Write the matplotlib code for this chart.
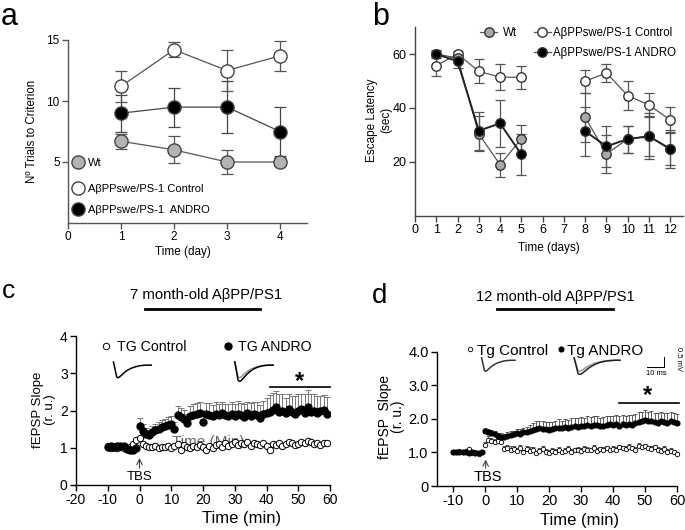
import matplotlib
matplotlib.use('Agg')
import matplotlib.pyplot as plt
from matplotlib.lines import Line2D
from matplotlib.legend import Legend
import numpy as np

plt.rcParams['font.family'] = ['Liberation Sans', 'DejaVu Sans']
plt.rcParams['axes.unicode_minus'] = False

# ---------------- data ----------------
# a: trials to criterion
days_a = [1, 2, 3, 4]
wt_a = [6.7, 6.0, 5.0, 5.0]
wt_a_err = [0.6, 1.1, 1.0, 0.3]
ctrl_a = [11.2, 14.2, 12.5, 13.7]
ctrl_a_err = [1.3, 0.6, 1.7, 1.2]
andro_a = [9.0, 9.5, 9.5, 7.5]
andro_a_err = [1.5, 1.6, 2.1, 2.0]

# b: escape latency
days_b = [1, 2, 3, 4, 5, 8, 9, 10, 11, 12]
wt_b = [60.0, 58.5, 30.4, 19.0, 28.6, 36.5, 23.0, 28.5, 29.6, 24.9]
wt_b_err = [1.5, 2.0, 6.5, 4.4, 5.2, 9.0, 7.0, 5.0, 7.5, 6.0]
ctrl_b = [55.7, 60.0, 53.6, 51.4, 51.4, 49.9, 53.0, 44.6, 41.1, 35.6]
ctrl_b_err = [3.8, 1.0, 4.5, 4.9, 4.3, 4.3, 3.4, 5.3, 4.6, 4.6]
andro_b = [60.0, 57.3, 31.6, 34.3, 22.8, 31.4, 25.8, 28.5, 29.5, 24.8]
andro_b_err = [1.0, 2.5, 7.0, 8.8, 7.7, 9.0, 7.7, 5.0, 8.5, 7.0]

# c: 7 month-old, fEPSP slope
time_c = np.arange(-10, 60)
ctrl_c = [1.05, 1.00, 1.02, 0.98, 1.03, 1.00, 0.97, 1.02, 1.10, 1.22,
          1.25, 1.10, 1.05, 1.03, 1.02, 1.05, 1.00, 1.03, 1.02, 1.06,
          1.00, 1.05, 1.10, 0.95, 1.08, 1.02, 0.98, 1.06, 1.03, 1.08,
          1.02, 0.95, 1.05, 1.00, 1.08, 1.10, 1.03, 1.12, 1.05, 1.10,
          1.15, 1.08, 1.12, 1.10, 1.15, 1.05, 1.12, 1.10, 1.08, 1.12,
          1.05, 0.95, 1.10, 1.08, 1.12, 1.05, 1.10, 1.15, 1.12, 1.08,
          1.10, 1.15, 1.12, 1.18, 1.15, 1.10, 1.12, 1.08, 1.12, 1.13]
andro_c = [1.03, 1.05, 1.02, 1.06, 1.04, 1.05, 0.96, 0.93, 0.95, 1.00,
           1.58, 1.45, 1.38, 1.33, 1.42, 1.48, 1.50, 1.55, 1.58, 1.60,
           1.63, 1.50, 1.88, 1.82, 1.76, 1.66, 1.85, 1.88, 1.90, 1.92,
           1.70, 1.90, 1.88, 1.85, 1.90, 1.87, 1.92, 1.88, 1.86, 1.90,
           1.85, 1.90, 1.88, 1.83, 1.92, 1.86, 1.90, 1.88, 1.80, 1.90,
           1.93, 1.97, 2.02, 2.10, 1.95, 2.00, 1.92, 2.05, 1.95, 1.90,
           1.98, 2.03, 1.93, 2.10, 1.95, 2.00, 1.92, 1.98, 2.02, 1.90]
andro_c_err = [0.03, 0.03, 0.03, 0.03, 0.03, 0.03, 0.03, 0.03, 0.03, 0.03,
               0.22, 0.18, 0.15, 0.14, 0.16, 0.17, 0.18, 0.20, 0.20, 0.22,
               0.22, 0.20, 0.25, 0.24, 0.25, 0.25, 0.28, 0.30, 0.30, 0.32,
               0.30, 0.30, 0.32, 0.30, 0.33, 0.30, 0.32, 0.30, 0.32, 0.33,
               0.33, 0.35, 0.32, 0.34, 0.32, 0.35, 0.33, 0.34, 0.35, 0.35,
               0.40, 0.45, 0.45, 0.42, 0.48, 0.45, 0.42, 0.40, 0.45, 0.48,
               0.45, 0.42, 0.50, 0.45, 0.48, 0.44, 0.46, 0.42, 0.40, 0.45]

# d: 12 month-old, fEPSP slope
time_d = np.arange(-10, 61)
ctrl_d = [1.02, 1.00, 1.03, 1.00, 1.05, 1.10, 0.98, 1.00, 0.96, 1.00,
          1.22, 1.38, 1.35, 1.30, 1.33, 1.30, 1.10, 1.12, 1.08, 1.10,
          1.05, 1.12, 1.00, 1.10, 1.05, 1.08, 0.98, 1.03, 1.10, 1.00,
          0.98, 1.05, 1.02, 1.08, 1.00, 1.05, 1.10, 1.02, 1.06, 1.08,
          1.05, 1.10, 1.08, 1.06, 1.12, 1.05, 1.10, 1.08, 1.12, 1.06,
          1.10, 1.08, 1.15, 1.12, 1.10, 1.16, 1.12, 1.08, 1.20, 1.15,
          1.18, 1.12, 1.10, 1.15, 1.08, 1.05, 1.10, 1.02, 1.05, 1.00, 0.95]
ctrl_d_err = [0.02, 0.02, 0.02, 0.02, 0.02, 0.02, 0.02, 0.02, 0.02, 0.02,
              0.10, 0.10, 0.08, 0.10, 0.08, 0.10, 0.08, 0.10, 0.10, 0.09,
              0.08, 0.10, 0.08, 0.09, 0.10, 0.08, 0.07, 0.09, 0.08, 0.10,
              0.08, 0.07, 0.09, 0.08, 0.07, 0.08, 0.09, 0.08, 0.07, 0.08,
              0.09, 0.08, 0.07, 0.08, 0.09, 0.08, 0.07, 0.09, 0.08, 0.07,
              0.08, 0.09, 0.07, 0.08, 0.09, 0.08, 0.07, 0.08, 0.09, 0.08,
              0.07, 0.08, 0.09, 0.08, 0.07, 0.08, 0.09, 0.07, 0.08, 0.07, 0.06]
andro_d = [1.02, 1.00, 1.02, 1.00, 1.01, 0.99, 1.00, 0.98, 0.97, 1.00,
           1.65, 1.62, 1.58, 1.55, 1.50, 1.47, 1.46, 1.50, 1.52, 1.55,
           1.58, 1.56, 1.60, 1.62, 1.65, 1.68, 1.70, 1.72, 1.70, 1.71,
           1.68, 1.70, 1.72, 1.74, 1.72, 1.75, 1.73, 1.76, 1.78, 1.76,
           1.80, 1.78, 1.82, 1.80, 1.83, 1.81, 1.78, 1.80, 1.82, 1.84,
           1.82, 1.85, 1.80, 1.84, 1.83, 1.86, 1.82, 1.88, 1.90, 1.92,
           1.95, 1.93, 1.92, 1.90, 1.88, 1.92, 1.90, 1.88, 1.92, 1.90, 1.88]
andro_d_err = [0.02, 0.02, 0.02, 0.02, 0.02, 0.02, 0.02, 0.02, 0.02, 0.02,
               0.08, 0.08, 0.10, 0.10, 0.08, 0.10, 0.10, 0.12, 0.12, 0.10,
               0.12, 0.15, 0.12, 0.15, 0.18, 0.20, 0.22, 0.20, 0.22, 0.20,
               0.22, 0.20, 0.22, 0.24, 0.22, 0.24, 0.22, 0.25, 0.24, 0.25,
               0.25, 0.24, 0.26, 0.25, 0.24, 0.26, 0.25, 0.26, 0.27, 0.25,
               0.26, 0.25, 0.27, 0.28, 0.26, 0.25, 0.28, 0.27, 0.30, 0.28,
               0.30, 0.28, 0.30, 0.28, 0.29, 0.27, 0.28, 0.30, 0.28, 0.27, 0.26]

# example fEPSP traces (before / after TBS)
trace_pre = [0.25, -0.35, -0.95, -1.0, -0.9, -0.78, -0.66, -0.55, -0.45, -0.37, -0.3, -0.24,
             -0.19, -0.15, -0.11, -0.08, -0.05, -0.03, -0.02, -0.01, 0.0, 0.0, 0.0, 0.0]
trace_post = [0.25, -0.45, -1.2, -1.3, -1.2, -1.05, -0.9, -0.76, -0.63, -0.52, -0.42, -0.33,
              -0.26, -0.2, -0.15, -0.11, -0.08, -0.05, -0.03, -0.02, -0.01, 0.0, 0.0, 0.0]

W, H = 685, 530
fig = plt.figure(figsize=(W / 100, H / 100), dpi=100)


def box(l, r, t, b):
    return [l / W, 1 - b / H, (r - l) / W, (b - t) / H]


def fpos(x, y):
    return (x / W, 1 - y / H)


def style(ax, size, color='black'):
    for s in ['top', 'right']:
        ax.spines[s].set_visible(False)
    for s in ['left', 'bottom']:
        ax.spines[s].set_color(color)
        ax.spines[s].set_linewidth(1.0)
    ax.tick_params(direction='out', length=4, width=1, color=color, labelsize=size, pad=2)


def key(ax, handle, label, cx, tx, y, size, hl):
    # single legend entry: marker centre cx, text start tx, row y (pixels)
    em = size * 100 / 72
    start = cx - hl / 2
    leg = Legend(ax, [handle], [label], loc='center left', bbox_to_anchor=fpos(start, y),
                 bbox_transform=fig.transFigure, frameon=False, borderpad=0, borderaxespad=0,
                 handlelength=hl / em, handletextpad=(tx - start - hl) / em,
                 fontsize=size, numpoints=1)
    ax.add_artist(leg)


def trace(ax, x0, y0, w, h, curves):
    ins = ax.inset_axes([x0, y0, w, h], transform=ax.transData)
    for vals, col in curves:
        ins.plot(vals, color=col, lw=1.1)
    ins.set_ylim(-1.35, 0.3)
    ins.axis('off')


# ---------------- a ----------------
ax = fig.add_axes(box(68, 306.5, 40, 223))
style(ax, 8.5, '#555555')
err_kw = dict(lw=0.9, elinewidth=0.9, capsize=4.5, capthick=0.9, ms=9.5, mec='#444444')
ax.errorbar(days_a, wt_a, yerr=wt_a_err, fmt='-o', color='#555555', mfc='#b3b3b3', **err_kw)
ax.errorbar(days_a, andro_a, yerr=andro_a_err, fmt='-o', color='#444444', mfc='black', **err_kw)
ax.errorbar(days_a, ctrl_a, yerr=ctrl_a_err, fmt='-o', color='#555555', mfc='white', **err_kw)
ax.set_xlim(0, 4.5)
ax.set_ylim(0, 15)
ax.set_xticks([0, 1, 2, 3, 4])
ax.set_yticks([5, 10, 15])
ax.set_xlabel('Time (day)', fontsize=8.5, va='center')
ax.xaxis.set_label_coords(0.48, -0.157)
ax.set_ylabel('Nº Trials to Criterion', fontsize=8.3, va='center')
ax.yaxis.set_label_coords(-0.152, 0.5)
mk = dict(ls='none', marker='o', ms=9.5, mec='#444444')
key(ax, Line2D([], [], mfc='#b3b3b3', **mk), 'Wt', 78.3, 88.3, 163.3, 8, 14)
key(ax, Line2D([], [], mfc='white', **mk), 'AβPPswe/PS-1 Control', 78.3, 88.3, 188.7, 8, 14)
key(ax, Line2D([], [], mfc='black', **mk), 'AβPPswe/PS-1  ANDRO', 78.3, 88.3, 210, 8, 14)
fig.text(*fpos(1, 25), 'a', fontsize=22, va='baseline')

# ---------------- b ----------------
ax = fig.add_axes(box(415, 683, 27, 216))
style(ax, 9, '#444444')
err_kw = dict(elinewidth=0.9, capsize=3.5, capthick=0.9, ms=6.8, mec='#333333', ecolor='#555555')
series_b = [(ctrl_b, ctrl_b_err, 'white', '#555555', 0.9),
            (wt_b, wt_b_err, '#a8a8a8', '#555555', 0.9),
            (andro_b, andro_b_err, 'black', '#222222', 1.4)]
for vals, errs, face, col, lw in series_b:
    for sl in (slice(0, 5), slice(5, 10)):
        ax.errorbar(days_b[sl], vals[sl], yerr=errs[sl], fmt='-o', color=col, lw=lw,
                    mfc=face, **err_kw)
ax.set_xlim(0, 12.6)
ax.set_ylim(0, 70)
ax.set_xticks(range(0, 13))
ax.set_yticks([20, 40, 60])
ax.set_xlabel('Time (days)', fontsize=8.5, va='center')
ax.xaxis.set_label_coords(0.5, -0.169)
ax.set_ylabel('Escape Latency\n(sec)', fontsize=8.5, va='center', linespacing=1.25)
ax.yaxis.set_label_coords(-0.134, 0.508)
mk = dict(marker='o', ms=6.8, mec='#333333', color='#555555', lw=0.9)
key(ax, Line2D([], [], mfc='#a8a8a8', **mk), 'Wt', 488.5, 502.7, 33.3, 8.3, 17)
key(ax, Line2D([], [], mfc='white', **mk), 'AβPPswe/PS-1 Control', 542.3, 553.3, 33.3, 8.3, 17)
key(ax, Line2D([], [], mfc='black', **mk), 'AβPPswe/PS-1 ANDRO', 542.3, 553.3, 53.3, 8.3, 17)
fig.text(*fpos(372, 25), 'b', fontsize=22, va='baseline')

# ---------------- c ----------------
ax = fig.add_axes(box(76, 330, 336, 485))
style(ax, 10)
ax.text(21.5, 1.16, 'Time (Min)', fontsize=11, color='#666666', ha='center', va='center', zorder=1)
ax.plot(time_c, ctrl_c, 'o', ms=4.6, mfc='white', mec='black', mew=0.7, zorder=3)
ax.errorbar(time_c, andro_c, yerr=[np.zeros(len(andro_c)), andro_c_err], fmt='o', ms=5.0,
            color='black', ecolor='#777777', elinewidth=0.7, capsize=2.3, capthick=0.7, zorder=4)
ax.set_xlim(-20, 60)
ax.set_ylim(0, 4)
ax.set_xticks(range(-20, 61, 10))
ax.set_yticks([0, 1, 2, 3, 4])
ax.set_xlabel('Time (min)', fontsize=12, va='center')
ax.xaxis.set_label_coords(0.65, -0.228)
ax.set_ylabel('fEPSP Slope\n(r. u.)', fontsize=9.5, va='center', linespacing=1.0)
ax.yaxis.set_label_coords(-0.126, 0.503)
ax.annotate('', xy=(0, 0.8), xytext=(0, 0.38),
            arrowprops=dict(arrowstyle='->', color='#444444', lw=0.8))
ax.text(0, 0.22, 'TBS', fontsize=9.5, ha='center', va='center')
ax.plot([41, 60], [2.64, 2.64], color='black', lw=1.2, clip_on=False)
ax.text(50.3, 2.78, '*', fontsize=17, ha='center', va='center', fontweight='bold')
trace(ax, -8.8, 2.76, 13.1, 0.56, [(trace_pre, 'black')])
trace(ax, 29.4, 2.76, 13.3, 0.56, [(trace_pre, '#999999'), (trace_post, 'black')])
key(ax, Line2D([], [], ls='none', marker='o', ms=4.6, mfc='white', mec='black', mew=0.7),
    'TG Control', 106, 117, 346.7, 10.2, 8)
key(ax, Line2D([], [], ls='none', marker='o', ms=5.0, color='black'),
    'TG ANDRO', 227.7, 237.7, 346.7, 10.2, 8)
fig.text(*fpos(206, 295), '7 month-old AβPP/PS1', fontsize=10.7, ha='center', va='center')
fig.add_artist(Line2D([145 / W, 260 / W], [1 - 309.3 / H] * 2, color='black', lw=2))
fig.text(*fpos(2, 298), 'c', fontsize=19, va='baseline')

# ---------------- d ----------------
ax = fig.add_axes(box(437, 677, 351.6, 486))
style(ax, 10.5)
ax.errorbar(time_d, ctrl_d, yerr=[np.zeros(len(ctrl_d)), ctrl_d_err], fmt='o', ms=3.2,
            mfc='white', mec='black', mew=0.6, ecolor='#444444', elinewidth=0.6,
            capsize=1.6, capthick=0.6, zorder=3, clip_on=False)
ax.errorbar(time_d, andro_d, yerr=[np.zeros(len(andro_d)), andro_d_err], fmt='o', ms=3.4,
            color='black', ecolor='#444444', elinewidth=0.6, capsize=1.6, capthick=0.6,
            zorder=4, clip_on=False)
ax.set_xlim(-15, 60)
ax.set_ylim(0, 4)
ax.set_xticks(range(-10, 61, 10))
ax.set_yticks([0, 1, 2, 3, 4])
ax.set_yticklabels(['0', '1.0', '2.0', '3.0', '4.0'])
ax.set_xlabel('Time (min)', fontsize=12, va='center')
ax.xaxis.set_label_coords(0.593, -0.253)
ax.set_ylabel('fEPSP  Slope\n(r. u.)', fontsize=10, va='center', linespacing=0.95)
ax.yaxis.set_label_coords(-0.19, 0.516)
ax.annotate('', xy=(0.2, 0.87), xytext=(0.2, 0.45),
            arrowprops=dict(arrowstyle='->', color='#444444', lw=0.8))
ax.text(0.8, 0.26, 'TBS', fontsize=10.5, ha='center', va='center')
ax.plot([41.8, 60.6], [2.48, 2.48], color='black', lw=1.2, clip_on=False)
ax.text(50.9, 2.7, '*', fontsize=17, ha='center', va='center', fontweight='bold')
trace(ax, -1.6, 3.3, 11.5, 0.54, [(trace_pre, '#333333')])
trace(ax, 27.1, 3.3, 15.8, 0.54, [(trace_pre, '#999999'), (trace_post, '#222222')])
ax.plot([56.0, 56.0, 50.7], [3.84, 3.55, 3.55], color='black', lw=0.7, clip_on=False)
ax.text(53.4, 3.36, '10 ms', fontsize=5.5, ha='center', va='center')
ax.text(60.4, 3.78, '0.5 mV', fontsize=5.5, ha='center', va='center', rotation=-90)
key(ax, Line2D([], [], ls='none', marker='o', ms=3.2, mfc='white', mec='black', mew=0.6),
    'Tg Control', 470, 476.7, 350.7, 11, 5)
key(ax, Line2D([], [], ls='none', marker='o', ms=3.4, color='black'),
    'Tg ANDRO', 560.7, 566.7, 350.7, 11, 5)
fig.text(*fpos(555, 296.7), '12 month-old AβPP/PS1', fontsize=10.5, ha='center', va='center')
fig.add_artist(Line2D([497 / W, 613 / W], [1 - 309 / H] * 2, color='black', lw=2))
fig.text(*fpos(372, 303), 'd', fontsize=20, va='baseline')

fig.savefig('out.png', dpi=100)
